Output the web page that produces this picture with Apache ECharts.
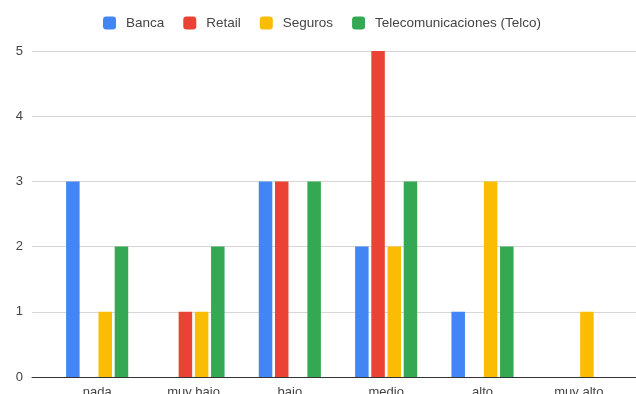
<!DOCTYPE html>
<html>
<head>
<meta charset="utf-8">
<script src="https://cdn.jsdelivr.net/npm/echarts@6/dist/echarts.min.js"></script>
<style>
  html, body { margin: 0; padding: 0; background: #fff; }
  #chart { width: 636px; height: 394px; }
</style>
</head>
<body>
<div id="chart"></div>
<script>
// Nivel de adopción por sector
const categories = ['nada', 'muy bajo', 'bajo', 'medio', 'alto', 'muy alto'];
const banca   = [3, 0, 3, 2, 1, 0];
const retail  = [0, 1, 3, 5, 0, 0];
const seguros = [1, 1, 0, 2, 3, 1];
const telco   = [2, 2, 3, 3, 2, 0];
const yTicks = { min: 0, max: 5, interval: 1 };

const colors = ['#4285F4', '#EA4335', '#FBBC04', '#34A853'];
const font = 'Liberation Sans, Arial, sans-serif';

function barSeries(name, data) {
  return {
    name: name,
    type: 'bar',
    xAxisIndex: 1,
    yAxisIndex: 1,
    data: data,
    barWidth: 13.5,
    barGap: '20%',
    emphasis: { disabled: true }
  };
}

const chart = echarts.init(document.getElementById('chart'), null, { renderer: 'canvas' });
chart.setOption({
  animation: false,
  color: colors,
  backgroundColor: '#ffffff',
  legend: {
    top: 16,
    left: 103,
    padding: 0,
    itemWidth: 13,
    itemHeight: 13,
    itemGap: 19,
    icon: 'roundRect',
    textStyle: { fontFamily: font, fontSize: 13.5, color: '#444', padding: [0, 0, 0, 5] },
    data: ['Banca', 'Retail', 'Seguros', 'Telecomunicaciones (Telco)']
  },
  grid: [
    { left: 32, right: 0, top: 51, bottom: 17, outerBoundsMode: 'none', containLabel: false },
    { left: 49, right: 9, top: 51, bottom: 17, outerBoundsMode: 'none', containLabel: false }
  ],
  xAxis: [
    {
      type: 'category', gridIndex: 0, data: categories,
      axisLine: { show: true, lineStyle: { color: '#333', width: 1 } },
      axisTick: { show: false }, axisLabel: { show: false }, splitLine: { show: false }
    },
    {
      type: 'category', gridIndex: 1, data: categories,
      axisLine: { show: false }, axisTick: { show: false },
      axisLabel: { margin: 9, fontFamily: font, fontSize: 13, color: '#444' }
    }
  ],
  yAxis: [
    {
      type: 'value', gridIndex: 0, min: yTicks.min, max: yTicks.max, interval: yTicks.interval,
      axisLine: { show: false }, axisTick: { show: false },
      axisLabel: { margin: 9, fontFamily: font, fontSize: 13, color: '#444' },
      splitLine: { lineStyle: { color: '#d6d6d6', width: 1 } }
    },
    {
      type: 'value', gridIndex: 1, min: yTicks.min, max: yTicks.max, interval: yTicks.interval,
      show: false
    }
  ],
  series: [
    barSeries('Banca', banca),
    barSeries('Retail', retail),
    barSeries('Seguros', seguros),
    barSeries('Telecomunicaciones (Telco)', telco)
  ]
});
</script>
</body>
</html>
